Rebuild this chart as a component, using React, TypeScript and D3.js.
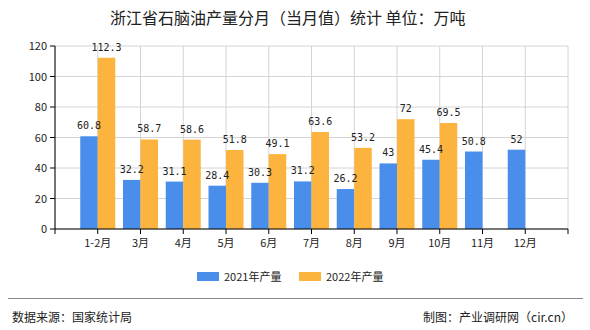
import React from "react";
import * as d3 from "d3";

const categories = ["1-2月", "3月", "4月", "5月", "6月", "7月", "8月", "9月", "10月", "11月", "12月"];
const series2021: (number | null)[] = [60.8, 32.2, 31.1, 28.4, 30.3, 31.2, 26.2, 43, 45.4, 50.8, 52];
const series2022: (number | null)[] = [112.3, 58.7, 58.6, 51.8, 49.1, 63.6, 53.2, 72, 69.5, null, null];
const yTicks = [0, 20, 40, 60, 80, 100, 120];
const seriesNames = ["2021年产量", "2022年产量"];
const colors = ["#4a8eec", "#fdb43f"];

const W = 590, H = 330;
const left = 55, right = 568, top = 46, bottom = 229;
const barW = 17.5;
const cjk = "'Noto Sans CJK SC', sans-serif";
const mono = "'DejaVu Sans Mono', monospace";

export default function App() {
  const x = d3.scalePoint<string>().domain(categories).range([left, right]).padding(1);
  const y = d3.scaleLinear().domain([0, 120]).range([bottom, top]);
  const step = x.step();
  const gridX = d3.range(categories.length + 2).map((i) => left + i * step);
  const all = [series2021, series2022];

  return (
    <svg width={W} height={H} style={{ position: "absolute", left: 0, top: 0, background: "#fff" }}>
      <text x={110} y={24} fontFamily={cjk} fontSize={16} fill="#222" style={{ whiteSpace: "pre" }}>
        {"浙江省石脑油产量分月（当月值）统计 单位：万吨"}
      </text>
      {yTicks.map((t) => (
        <line key={"gy" + t} x1={left} x2={right} y1={y(t)} y2={y(t)} stroke="#d4d4d4" />
      ))}
      {gridX.map((gx, i) => (
        <line key={"gx" + i} x1={gx} x2={gx} y1={top} y2={bottom} stroke="#d4d4d4" />
      ))}
      {all.map((s, si) =>
        s.map((v, i) =>
          v == null ? null : (
            <rect
              key={si + "-" + i}
              x={(x(categories[i]) as number) + (si === 0 ? -barW : 0)}
              y={y(v)}
              width={barW}
              height={bottom - y(v)}
              fill={colors[si]}
            />
          )
        )
      )}
      {all.map((s, si) =>
        s.map((v, i) =>
          v == null ? null : (
            <text
              key={"l" + si + "-" + i}
              x={(x(categories[i]) as number) + (si === 0 ? -barW / 2 : barW / 2)}
              y={y(v) - 7}
              textAnchor="middle"
              fontFamily={mono}
              fontSize={10}
              fill="#222"
            >
              {String(v)}
            </text>
          )
        )
      )}
      <line x1={left} x2={left} y1={top} y2={bottom} stroke="#000" />
      <line x1={left} x2={right} y1={bottom} y2={bottom} stroke="#000" />
      {yTicks.map((t) => (
        <g key={"yt" + t}>
          <line x1={left - 5} x2={left} y1={y(t)} y2={y(t)} stroke="#000" />
          <text x={left - 8} y={y(t) + 4} textAnchor="end" fontFamily={cjk} fontSize={11} fill="#222">
            {t}
          </text>
        </g>
      ))}
      {gridX.map((gx, i) => (
        <line key={"xt" + i} x1={gx} x2={gx} y1={bottom} y2={bottom + 5} stroke="#000" />
      ))}
      {categories.map((c) => (
        <text key={"xl" + c} x={x(c) as number} y={247} textAnchor="middle" fontFamily={cjk} fontSize={11} fill="#222">
          {c}
        </text>
      ))}
      {seriesNames.map((n, i) => (
        <g key={"lg" + i}>
          <rect x={197 + i * 102} y={272} width={22} height={9} fill={colors[i]} />
          <text x={224 + i * 102} y={281} fontFamily={cjk} fontSize={11} fill="#222">
            {n}
          </text>
        </g>
      ))}
      <line x1={8} x2={583} y1={298.5} y2={298.5} stroke="#888" />
      <text x={12} y={322} fontFamily={cjk} fontSize={12} fill="#222">数据来源：国家统计局</text>
      <text x={573} y={322} textAnchor="end" fontFamily={cjk} fontSize={12} fill="#222">制图：产业调研网（cir.cn）</text>
    </svg>
  );
}
